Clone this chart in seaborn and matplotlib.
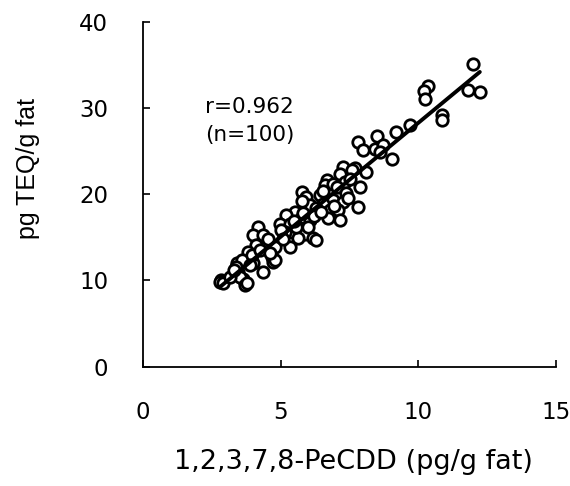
import numpy as np
import pandas as pd
import seaborn as sns
import matplotlib
matplotlib.use("Agg")
import matplotlib.pyplot as plt

# values
pecdd = [12.0, 10.36, 10.2, 10.24, 11.82, 12.24, 10.88, 10.85, 9.72, 9.2,
         8.5, 7.82, 8.0, 8.42, 8.73, 9.03, 8.6, 7.7,
         7.27, 7.58, 7.15, 6.67, 6.6, 7.33, 7.52, 6.91, 7.05, 7.39, 5.76, 5.94,
         6.42, 6.91, 7.27, 7.82, 6.55, 6.06, 5.76, 6.3, 5.52, 5.21, 5.76, 6.79,
         7.09, 6.73, 7.15, 6.06, 5.82, 6.2, 6.45, 6.95, 7.45,
         4.97, 5.4, 5.33, 5.15, 5.82, 5.88, 6.18, 6.3, 5.33, 5.64, 5.33, 5.57, 5.0,
         4.18, 4.0, 4.36, 4.12, 4.49, 4.79, 3.82, 4.67, 4.73, 4.79, 3.4, 4.0, 3.6,
         4.36, 3.45, 3.39, 3.64, 3.52, 3.7, 3.76, 2.85, 2.79, 2.9, 3.15, 3.95,
         4.25, 4.55, 3.3, 3.9, 4.6,
         5.5, 6.0, 6.55, 7.9, 8.1, 5.1]
teq = [35.1, 32.6, 32.0, 31.1, 32.1, 31.9, 29.2, 28.6, 28.0, 27.2,
       26.8, 26.1, 25.1, 25.3, 25.7, 24.1, 24.9, 23.0,
       23.2, 22.8, 22.4, 21.6, 21.1, 21.4, 21.8, 21.2, 20.8, 20.1, 20.3, 19.7,
       19.9, 19.3, 19.1, 18.5, 18.9, 18.7, 19.2, 18.4, 18.0, 17.6, 17.4, 18.2,
       18.2, 17.2, 17.0, 17.0, 17.8, 17.5, 18.0, 18.6, 19.6,
       16.6, 16.4, 16.6, 15.6, 15.6, 15.4, 14.9, 14.7, 14.3, 14.9, 13.9, 16.2, 15.9,
       16.2, 15.3, 15.3, 14.1, 14.1, 13.9, 13.3, 12.7, 12.2, 12.4, 12.0, 12.0, 12.4,
       11.0, 11.0, 11.6, 10.2, 10.4, 9.5, 9.65, 10.0, 9.85, 9.65, 10.4, 13.0,
       13.5, 14.8, 11.2, 11.8, 13.2,
       16.9, 16.2, 20.4, 20.9, 22.6, 14.8]

df = pd.DataFrame({"pecdd": pecdd, "teq": teq})

sns.set_style("ticks")
plt.rcParams["font.family"] = ["DejaVu Sans"]
plt.rcParams["text.color"] = "black"
plt.rcParams["axes.labelcolor"] = "black"

fig = plt.figure(figsize=(5.7, 4.86), dpi=100)
ax = fig.add_axes([0.251, 0.2455, 0.724, 0.7095])

sns.regplot(data=df, x="pecdd", y="teq", ci=None, ax=ax,
            scatter_kws=dict(s=68, facecolor="white", edgecolor="black",
                             linewidths=2.0, alpha=1, zorder=2),
            line_kws=dict(color="black", lw=2.8, zorder=3))

ax.set_xlim(0, 15)
ax.set_ylim(0, 40)
ax.set_xticks([0, 5, 10, 15])
ax.set_yticks([0, 10, 20, 30, 40])
sns.despine(ax=ax)
for s in ["left", "bottom"]:
    ax.spines[s].set_linewidth(1.3)
    ax.spines[s].set_color("black")
ax.tick_params(direction="in", length=5, width=1.2, colors="black",
               labelsize=16.5, pad=25)

ax.set_xlabel("1,2,3,7,8-PeCDD (pg/g fat)", fontsize=19.5, va="top")
ax.xaxis.set_label_coords(0.51, -0.238)
ax.set_ylabel("pg TEQ/g fat", fontsize=18, family="Liberation Sans")
ax.yaxis.set_label_coords(-0.25, 0.575)

ax.text(2.25, 31.3, "r=0.962", fontsize=15.5, va="top")
ax.text(2.25, 28.0, "(n=100)", fontsize=15.5, va="top")

fig.savefig("out.png", dpi=100)
